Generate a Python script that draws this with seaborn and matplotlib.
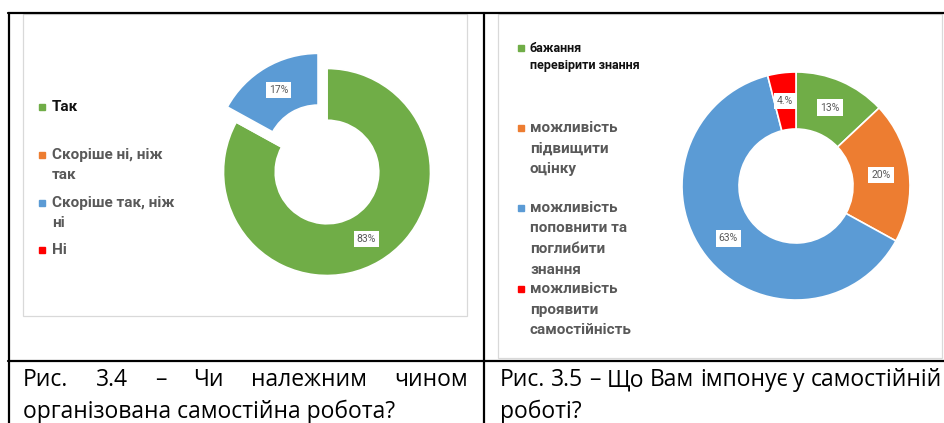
import numpy as np
import pandas as pd
import matplotlib
matplotlib.use("Agg")
import matplotlib.pyplot as plt
import seaborn as sns
from matplotlib.patches import Rectangle
from matplotlib.lines import Line2D

# chart 3.4 data
labels_34 = ["Так", "Скоріше ні, ніж\nтак", "Скоріше так, ніж\nні", "Ні"]
values_34 = [83, 0, 17, 0]
pct_34 = ["83%", "", "17%", ""]

# chart 3.5 data
labels_35 = ["бажання\nперевірити знання", "можливість\nпідвищити\nоцінку",
             "можливість\nпоповнити та\nпоглибити\nзнання", "можливість\nпроявити\nсамостійність"]
values_35 = [13, 20, 63, 4]
pct_35 = ["13%", "20%", "63%", "4.%"]

caption_34 = ["Рис. 3.4 – Чи належним чином", "організована самостійна робота?"]
caption_35 = ["Рис. 3.5 – Що Вам імпонує у самостійній", "роботі?"]

colors = sns.color_palette(["#70AD47", "#ED7D31", "#5B9BD5", "#FF0000"])

sns.set_theme(style="white")
plt.rcParams['font.family'] = ['Roboto', 'DejaVu Sans']

W, H = 945, 423
fig = plt.figure(figsize=(W / 100, H / 100), dpi=100)
fig.patch.set_facecolor("white")


def fx(x):
    return x / W


def fy(y):
    return 1 - y / H


# table borders
for x0, y0, x1, y1 in [(8, 13, 945, 13), (9, 13, 9, 423), (484, 13, 484, 423), (8, 361, 945, 361)]:
    fig.add_artist(Line2D([fx(x0), fx(x1)], [fy(y0), fy(y1)], color="black", lw=1.6,
                          transform=fig.transFigure))

# chart area frames
for x0, y0, x1, y1 in [(23, 14, 467, 316), (498, 14, 942, 358)]:
    fig.add_artist(Rectangle((fx(x0), fy(y1)), fx(x1 - x0), (y1 - y0) / H, fill=False,
                             edgecolor="#D9D9D9", lw=0.9, transform=fig.transFigure))


def donut(cx, cy, r, values, pct, explode):
    lim = 1.3
    size = 2 * lim * r
    ax = fig.add_axes([fx(cx - size / 2), fy(cy + size / 2), size / W, size / H])
    it = iter(pct)
    ax.pie(values, colors=colors, startangle=90, counterclock=False, explode=explode,
           wedgeprops=dict(width=0.5, edgecolor="white", linewidth=1.2),
           autopct=lambda p: next(it), pctdistance=0.75,
           textprops=dict(fontsize=7.5, color="#595959",
                          bbox=dict(boxstyle="square,pad=0.3", fc="white", ec="none")))
    ax.set_xlim(-lim, lim)
    ax.set_ylim(-lim, lim)
    ax.axis("off")
    return ax


donut(327, 172, 103.5, values_34, pct_34, [0, 0, 0.17, 0])
donut(796, 186, 114, values_35, pct_35, [0, 0, 0, 0])


def legend(mx, tx, entries, tops, sizes, tcolors, gap):
    for i, (lab, y) in enumerate(zip(entries, tops)):
        fig.add_artist(Rectangle((fx(mx - 3), fy(y + 3)), 6 / W, 6 / H, color=colors[i],
                                 transform=fig.transFigure))
        for j, line in enumerate(lab.split("\n")):
            fig.text(fx(tx), fy(y + j * gap[i]), line, fontsize=sizes[i], fontweight="bold",
                     color=tcolors[i], va="center", ha="left")


legend(42, 52, labels_34, [107, 155, 203, 250], [11] * 4,
       ["#111111", "#595959", "#595959", "#595959"], [20] * 4)
legend(521, 530, labels_35, [48, 128, 208, 289], [9, 11, 11, 11],
       ["#111111", "#595959", "#595959", "#595959"], [17, 20.5, 20.5, 20.5])

# captions, first line justified
renderer = fig.canvas.get_renderer()
cap_font = dict(fontsize=16.5, color="black", va="center", ha="left",
                family=['Open Sans', 'DejaVu Sans'])


def justified(line, x0, x1, y):
    words = line.split()
    texts = [fig.text(fx(x0), fy(y), w, **cap_font) for w in words]
    widths = [t.get_window_extent(renderer).width for t in texts]
    gap = (x1 - x0 - sum(widths)) / (len(words) - 1)
    x = x0
    for t, w in zip(texts, widths):
        t.set_x(fx(x))
        x += w + gap


justified(caption_34[0], 23, 468, 380)
fig.text(fx(23), fy(412), caption_34[1], **cap_font)
justified(caption_35[0], 500, 942, 380)
fig.text(fx(500), fy(412), caption_35[1], **cap_font)

fig.savefig("out.png", dpi=100)
